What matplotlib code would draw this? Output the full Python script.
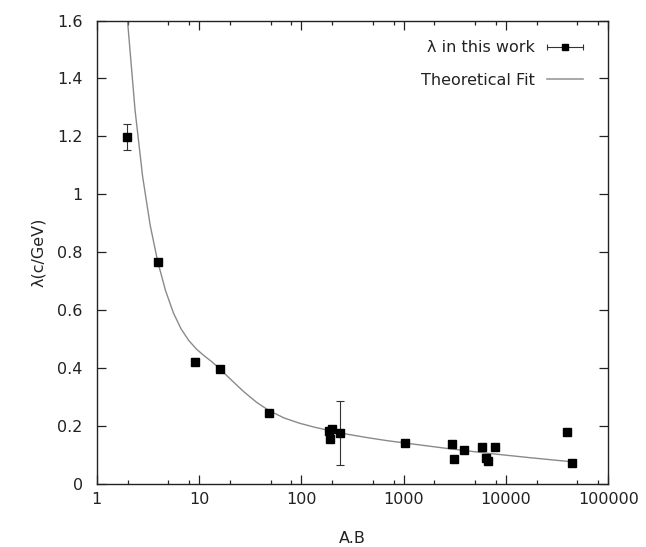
import numpy as np
import matplotlib
matplotlib.use("Agg")
import matplotlib.pyplot as plt
from matplotlib.lines import Line2D
from matplotlib.legend_handler import HandlerLine2D, HandlerTuple
from matplotlib.ticker import LogLocator, FixedLocator, FuncFormatter

plt.rcParams["font.family"] = ["DejaVu Sans"]

# measured lambda values
ab = [1.99, 3.95, 9.14, 16.0, 48.3, 188, 201, 191, 239, 1032,
      2972, 3133, 3865, 5880, 6390, 6730, 7820, 39300, 43950]
lam = [1.199, 0.767, 0.4235, 0.398, 0.246, 0.185, 0.190, 0.155, 0.178, 0.1425,
       0.139, 0.087, 0.118, 0.128, 0.090, 0.082, 0.128, 0.182, 0.0746]
lam_err = [0.045, 0, 0.012, 0, 0, 0, 0, 0, 0.11, 0,
           0, 0, 0, 0, 0, 0, 0, 0, 0]

# theoretical fit curve
fit_x = [1.95, 2.0, 2.37, 2.81, 3.33, 3.95, 4.71, 5.61, 6.68, 7.95, 9.46,
         11.27, 13.43, 16, 21.1, 27.7, 36.5, 48, 67.7, 95.5, 134.7, 190,
         290, 443, 677, 1030, 2624, 6675, 16980, 43300]
fit_y = [1.653, 1.60, 1.291, 1.062, 0.894, 0.768, 0.668, 0.592, 0.536, 0.496,
         0.466, 0.443, 0.422, 0.398, 0.357, 0.318, 0.283, 0.255, 0.229, 0.211,
         0.197, 0.185, 0.172, 0.161, 0.151, 0.1425, 0.124, 0.107, 0.092, 0.078]

ab = np.array(ab)
lam = np.array(lam)
lam_err = np.array(lam_err)
has_err = lam_err > 0

fig = plt.figure(figsize=(6.46, 5.47), dpi=100)
ax = fig.add_axes([0.1497, 0.1146, 0.7919, 0.8479])

ax.plot(fit_x, fit_y, color="#8a8a8a", lw=1.0, zorder=2)
ax.errorbar(ab[has_err], lam[has_err], yerr=lam_err[has_err], fmt="none",
            ecolor="#333333", elinewidth=0.8, capsize=2.9, capthick=0.8,
            zorder=3)
ax.plot(ab, lam, "s", color="black", ms=5.5, zorder=4)

ax.set_xscale("log")
ax.set_xlim(1, 100000)
ax.set_ylim(0, 1.6)

ax.xaxis.set_major_locator(FixedLocator([1, 10, 100, 1000, 10000, 100000]))
ax.xaxis.set_minor_locator(LogLocator(base=10, subs=(2, 5, 8)))
ax.xaxis.set_major_formatter(FuncFormatter(lambda v, p: "%d" % round(v)))
ax.xaxis.set_minor_formatter(FuncFormatter(lambda v, p: ""))
ax.set_yticks(np.arange(0, 1.61, 0.2))
ax.yaxis.set_major_formatter(FuncFormatter(lambda v, p: "%g" % round(v, 1)))

ax.tick_params(which="both", direction="in", top=True, right=True,
               labelsize=11.5, color="#222222", labelcolor="#222222", width=0.9)
ax.tick_params(which="major", length=6.5)
ax.tick_params(which="minor", length=3.2)
ax.tick_params(axis="x", which="major", pad=5.5)
ax.tick_params(axis="y", which="major", pad=10)
for s in ax.spines.values():
    s.set_linewidth(1.0)
    s.set_color("#222222")

ax.set_xlabel("A.B", fontsize=11.5, color="#222222", labelpad=17)
ax.set_ylabel("λ(c/GeV)", fontsize=11.5, color="#222222", labelpad=8)

# legend: gnuplot style horizontal error bar sample
bar = Line2D([], [], color="#333333", lw=0.8, marker="|", ms=5, mew=0.8)
sq = Line2D([], [], color="black", lw=0, marker="s", ms=4)
fit_handle = Line2D([], [], color="#9a9a9a", lw=1.2)
leg = ax.legend([(bar, sq), fit_handle], ["λ in this work", "Theoretical Fit"],
                handler_map={bar: HandlerLine2D(numpoints=2, marker_pad=0),
                             sq: HandlerLine2D(numpoints=1),
                             tuple: HandlerTuple(ndivide=1, pad=0)},
                loc="upper right", bbox_to_anchor=(0.966, 0.975),
                frameon=False, markerfirst=False, fontsize=11.5,
                handlelength=2.25, handletextpad=0.75, labelspacing=1.1,
                borderpad=0)
for t in leg.get_texts():
    t.set_color("#222222")

fig.savefig("out.png", dpi=100)
